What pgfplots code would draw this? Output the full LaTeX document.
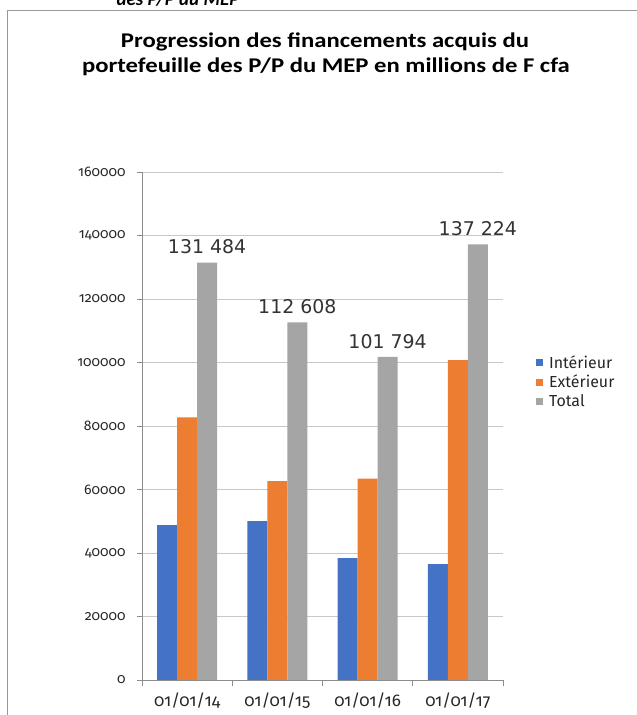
\documentclass[border=0pt]{standalone}
\usepackage{fontspec}
\setmainfont{Carlito}
\newfontfamily\onum{Fira Sans}[Numbers=OldStyle]
\newfontfamily\fira{Fira Sans}
\newfontfamily\dv{DejaVu Sans}
\usepackage{pgfplots}
\pgfplotsset{compat=1.18}
\definecolor{cblue}{HTML}{4472C4}
\definecolor{corange}{HTML}{ED7D31}
\definecolor{cgray}{HTML}{A5A5A5}
\definecolor{cgrid}{HTML}{C8C8C8}
\begin{document}
\begin{tikzpicture}[x=1bp,y=1bp]
\useasboundingbox (0,0) rectangle (637,715);
\draw[color=black!40, line width=1bp] (7,0) -- (7,704) -- (640,704);
\node[anchor=base, xscale=1.0, font=\fontsize{19}{24}\selectfont\bfseries\itshape] at (178,709) {des P/P du MEP};
\node[anchor=base, xscale=1.18, font=\fontsize{21}{24}\selectfont\bfseries] at (325,667) {Progression des financements acquis du};
\node[anchor=base, xscale=1.18, font=\fontsize{21}{24}\selectfont\bfseries] at (326,642) {portefeuille des P/P du MEP en millions de F cfa};
\begin{axis}[
  at={(142bp,35bp)}, anchor=south west,
  scale only axis, width=361bp, height=508bp,
  ybar=0pt, bar width=20bp,
  xmin=-0.5, xmax=3.5, ymin=0, ymax=160000,
  scaled y ticks=false,
  ytick={0,20000,40000,60000,80000,100000,120000,140000,160000},
  yticklabels={\mbox{0},\mbox{20000},\mbox{40000},\mbox{60000},\mbox{80000},\mbox{100000},\mbox{120000},\mbox{140000},\mbox{160000}},
  yticklabel style={font=\onum\fontsize{14}{15}\selectfont, xshift=-8bp, text=black!85},
  xtick={0,1,2,3},
  xticklabels={\mbox{01/01/14},\mbox{01/01/15},\mbox{01/01/16},\mbox{01/01/17}},
  xticklabel style={font=\onum\fontsize{17}{18}\selectfont, yshift=-4bp, text=black!85},
  minor xtick={-0.5,0.5,1.5,2.5,3.5},
  axis lines*=left,
  axis line style={color=black!45, line width=0.8bp},
  tick align=outside,
  major tick length=5bp,
  minor tick length=6bp,
  x tick style={draw=none},
  minor x tick style={draw=black!45, line width=0.8bp},
  y tick style={draw=black!45, line width=0.8bp},
  ymajorgrids, grid style={color=cgrid, line width=0.8bp},
  legend style={at={(1.083,0.587)}, anchor=west, draw=none, fill=none,
    font=\fira\fontsize{16}{18}\selectfont, row sep=1bp,
    legend cell align=left, text=black!85,
    nodes={inner xsep=6bp}},
  legend image code/.code={\fill[#1] (0bp,-3.5bp) rectangle (7bp,3.5bp);},
]
\addplot[fill=cblue, draw=none] coordinates {(0,48800) (1,50000) (2,38400) (3,36500)};
\addplot[fill=corange, draw=none] coordinates {(0,82684) (1,62608) (2,63394) (3,100724)};
\addplot[fill=cgray, draw=none,
  point meta=explicit symbolic,
  nodes near coords,
  nodes near coords style={font=\dv\fontsize{19}{22}\selectfont, text=black!80, yshift=5bp}]
  coordinates {(0,131484) [131 484] (1,112608) [112 608] (2,101794) [101 794] (3,137224) [137 224]};
\legend{Intérieur,Extérieur,Total}
\end{axis}
\end{tikzpicture}
\end{document}
